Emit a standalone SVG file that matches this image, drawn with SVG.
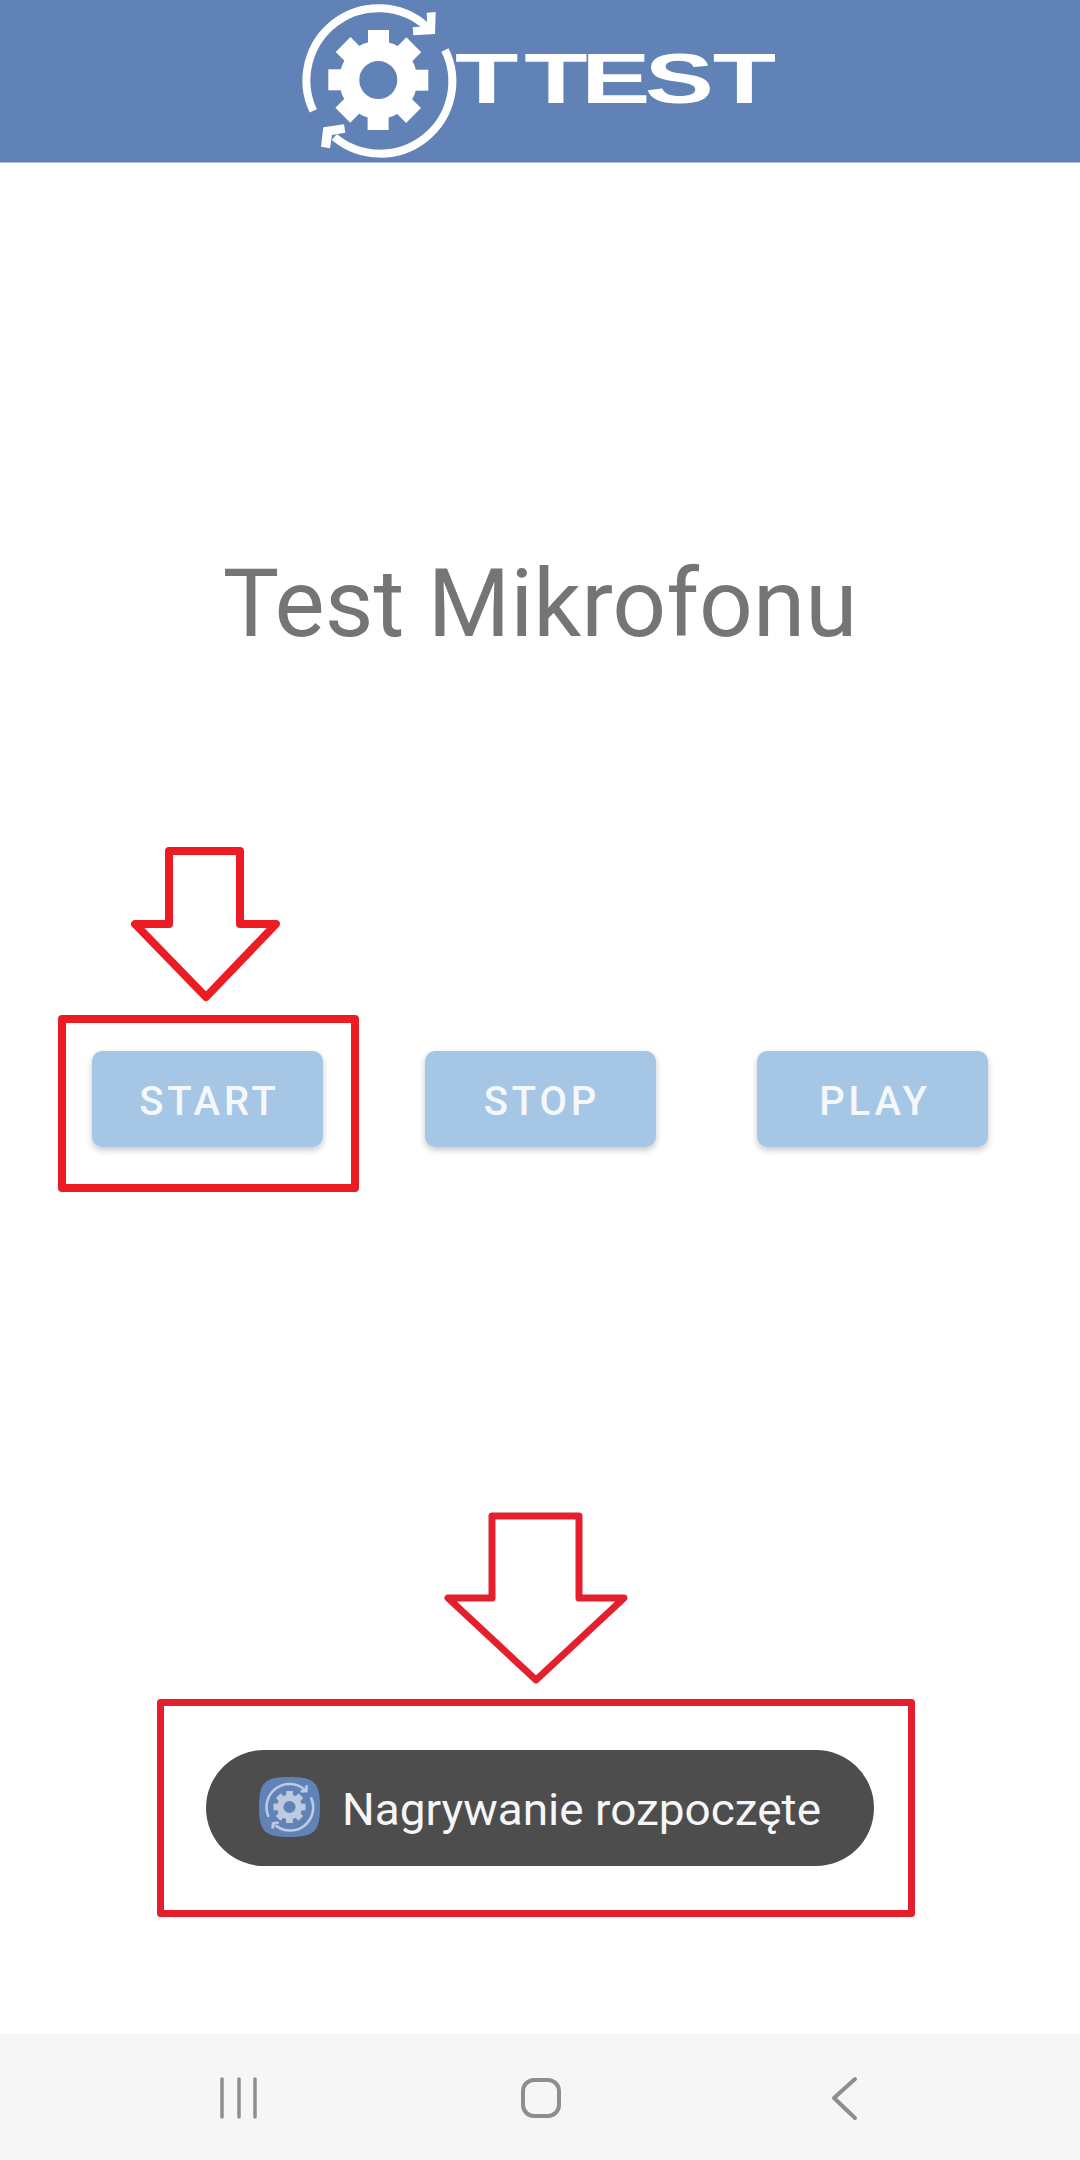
<svg xmlns="http://www.w3.org/2000/svg" xmlns:xlink="http://www.w3.org/1999/xlink" width="1080" height="2160" viewBox="0 0 1080 2160">
<style>
text{font-family:Roboto,"Liberation Sans",sans-serif}
.btn{fill:#A6C6E5;filter:url(#sh)}
.btxt{font-size:40px;font-weight:500;letter-spacing:3.8px;fill:#F4F8FC;text-anchor:middle}
.red{fill:none;stroke:#ED1C24;stroke-linejoin:round}
.nav{fill:none;stroke:#8E8E8E;stroke-linecap:round;stroke-linejoin:round}
</style>
<defs>
<filter id="sh" x="-10%" y="-10%" width="120%" height="130%"><feDropShadow dx="0" dy="3" stdDeviation="3" flood-color="#000" flood-opacity=".22"/></filter>
<g id="mark">
<circle cx="378.3" cy="80" r="29" fill="none" stroke="currentColor" stroke-width="20"/>
<g fill="currentColor">
<rect x="368" y="30" width="21" height="16"/>
<rect x="368" y="30" width="21" height="16" transform="rotate(45 378.3 80)"/>
<rect x="368" y="30" width="21" height="16" transform="rotate(90 378.3 80)"/>
<rect x="368" y="30" width="21" height="16" transform="rotate(135 378.3 80)"/>
<rect x="368" y="30" width="21" height="16" transform="rotate(180 378.3 80)"/>
<rect x="368" y="30" width="21" height="16" transform="rotate(225 378.3 80)"/>
<rect x="368" y="30" width="21" height="16" transform="rotate(270 378.3 80)"/>
<rect x="368" y="30" width="21" height="16" transform="rotate(315 378.3 80)"/>
<polygon points="426.7,12.7 435.7,12 435,34 413.3,35.3 412.7,27.3 427.3,26"/>
<polygon points="323.3,127.3 344,124.3 345.3,132.7 332,135 330,148.3 321,146.7"/>
</g>
<path d="M313.3 110.9A72 72 0 0 1 426.6 26.7M445 50A72 72 0 0 1 334.3 137" fill="none" stroke="currentColor" stroke-width="8"/>
</g>
</defs>
<rect width="1080" height="2160" fill="#fff"/>
<g id="header">
<rect width="1080" height="162.5" fill="#6082B6"/>
<use xlink:href="#mark" href="#mark" color="#fff"/>
<text transform="translate(455 103) scale(1.46 1)" x="0 47.5 86.5 130 176.5" y="0" font-size="71" font-weight="700" fill="#fff" style="font-family:'Liberation Sans',sans-serif">TTEST</text>
</g>
<g id="title"><text x="540" y="636" font-size="94.5" fill="#757575" text-anchor="middle">Test Mikrofonu</text></g>
<g id="btn-start"><rect class="btn" x="92" y="1051" width="231" height="96" rx="10"/><text class="btxt" x="209.5" y="1115">START</text></g>
<g id="btn-stop"><rect class="btn" x="425" y="1051" width="231" height="96" rx="10"/><text class="btxt" x="542" y="1115">STOP</text></g>
<g id="btn-play"><rect class="btn" x="757" y="1051" width="231" height="96" rx="10"/><text class="btxt" x="875" y="1115">PLAY</text></g>
<g id="toast">
<rect x="206" y="1750" width="668" height="116" rx="58" fill="#4D4D4D"/>
<path d="M259 1807C259 1782 265 1777 289.5 1777C314 1777 320 1782 320 1807C320 1832 314 1837 289.5 1837C265 1837 259 1832 259 1807Z" fill="#6082B6"/>
<use xlink:href="#mark" href="#mark" color="#BCCBE0" transform="translate(289.5 1807) scale(.32) translate(-378.3 -80)"/>
<text x="342" y="1825" font-size="45" fill="#F6F6F6" textLength="479" lengthAdjust="spacingAndGlyphs">Nagrywanie rozpoczęte</text>
</g>
<g id="connectors">
<rect class="red" x="62" y="1019" width="293" height="169" stroke-width="8"/>
<path class="red" stroke-width="8" d="M169 851H240V924H276L206 997L135 924H169Z"/>
<rect class="red" x="160.5" y="1702.5" width="751" height="211" stroke-width="7" style="stroke:#E4202E"/>
<path class="red" stroke-width="7" style="stroke:#E4202E" d="M492 1516H579V1598H624L536 1680L448 1598H492Z"/>
</g>
<g id="navbar">
<rect y="2034" width="1080" height="126" fill="#F6F6F6"/>
<path class="nav" stroke-width="3.5" d="M222 2079V2117M239 2079V2117M255 2079V2117"/>
<rect class="nav" x="523" y="2080" width="36" height="36" rx="11" stroke-width="4"/>
<path class="nav" stroke-width="4" d="M855 2079L834 2098L855 2118"/>
</g>
</svg>
